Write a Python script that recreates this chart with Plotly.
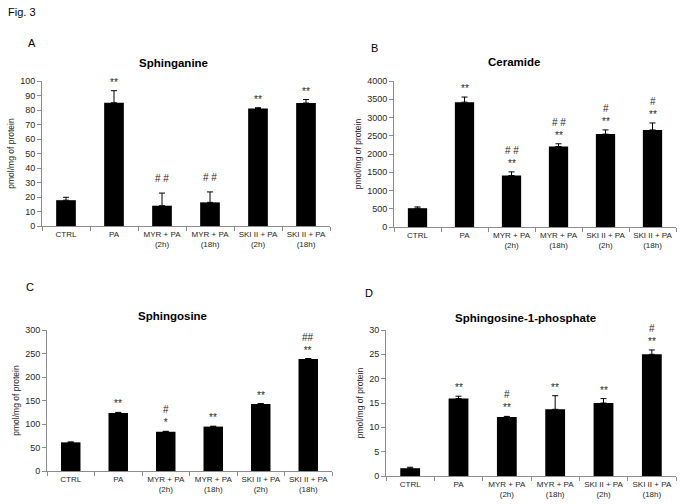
import plotly.graph_objects as go

# ---------------- data ----------------
categories = ["CTRL", "PA", "MYR + PA<br>(2h)", "MYR + PA<br>(18h)",
              "SKI II + PA<br>(2h)", "SKI II + PA<br>(18h)"]

sphinganine = [17.8, 85.0, 14.0, 16.3, 81.0, 84.8]
sphinganine_err = [2.0, 8.3, 8.7, 7.2, 0.6, 2.4]
sphinganine_sig = ["", "**", "# #", "# #", "**", "**"]

ceramide = [515, 3420, 1410, 2205, 2545, 2660]
ceramide_err = [35, 140, 100, 75, 115, 190]
ceramide_sig = ["", "**", "# #<br>**", "# #<br>**", "#<br>**", "#<br>**"]

sphingosine = [61, 123.5, 83.5, 94.5, 142.5, 238.5]
sphingosine_err = [0.8, 1.2, 1.0, 0.8, 1.0, 0.8]
sphingosine_sig = ["", "**", "#<br>*", "**", "**", "##<br>**"]

s1p = [1.6, 15.9, 12.1, 13.7, 15.0, 25.0]
s1p_err = [0.2, 0.5, 0.15, 2.8, 0.9, 0.9]
s1p_sig = ["", "**", "#<br>**", "**", "**", "#<br>**"]

titles = ["Sphinganine", "Ceramide", "Sphingosine", "Sphingosine-1-phosphate"]
letters = ["A", "B", "C", "D"]
y_ranges = [(0, 100, 10), (0, 4000, 500), (0, 300, 50), (0, 30, 5)]
y_title = "pmol/mg of protein"

panels = [
    (sphinganine, sphinganine_err, sphinganine_sig),
    (ceramide, ceramide_err, ceramide_sig),
    (sphingosine, sphingosine_err, sphingosine_sig),
    (s1p, s1p_err, s1p_sig),
]

# ---------------- layout geometry (pixels in 683x504) ----------------
W, H = 683, 504
boxes = [  # x0, x1, ytop, ybottom
    (42, 330, 81, 226),
    (394, 676, 81, 227),
    (47, 332, 330, 471),
    (386, 676, 330, 476),
]
title_pos = [(173, 63), (514, 62), (172, 316), (525, 318)]
letter_pos = [(32, 43), (374, 48), (30, 287), (369, 293)]

FONT = "Liberation Sans, Arial, sans-serif"
AXIS_COLOR = "#8c8c8c"
TEXT_COLOR = "#262626"

fig = go.Figure()
annotations = []

for i, (vals, errs, sigs) in enumerate(panels):
    n = "" if i == 0 else str(i + 1)
    xa, ya = "x" + n, "y" + n
    fig.add_trace(go.Bar(
        x=categories, y=vals, xaxis=xa, yaxis=ya,
        marker=dict(color="black", line=dict(width=0)),
        width=0.41,
        error_y=dict(type="data", array=errs, arrayminus=[0] * len(errs),
                     symmetric=False, color="black", thickness=1, width=3),
        showlegend=False, hoverinfo="skip",
    ))
    x0, x1, yt, yb = boxes[i]
    lo, hi, dt = y_ranges[i]
    fig.layout["xaxis" + n] = dict(
        domain=[x0 / W, x1 / W], anchor=ya, type="category",
        showline=True, linecolor=AXIS_COLOR, linewidth=1,
        ticks="outside", tickson="boundaries", ticklen=4, tickcolor=AXIS_COLOR,
        tickangle=0, automargin=False,
        showgrid=False, tickfont=dict(size=8, color=TEXT_COLOR, family=FONT),
        fixedrange=True,
    )
    fig.layout["yaxis" + n] = dict(
        domain=[1 - yb / H, 1 - yt / H], anchor=xa, range=[lo, hi], dtick=dt,
        showline=True, linecolor=AXIS_COLOR, linewidth=1,
        ticks="outside", ticklen=4, tickcolor=AXIS_COLOR,
        showgrid=False, zeroline=False, automargin=False,
        tickfont=dict(size=9, color=TEXT_COLOR, family=FONT),
        title=dict(text=y_title, font=dict(size=8.5, color=TEXT_COLOR, family=FONT),
                   standoff=4),
        fixedrange=True,
    )
    # significance marks above error bars
    for c, v, e, s in zip(categories, vals, errs, sigs):
        if not s:
            continue
        bottom_line = s.split("<br>")[-1]
        annotations.append(dict(
            x=c, y=v + e, xref=xa, yref=ya, text=s, showarrow=False,
            yanchor="bottom", yshift=7 if bottom_line.startswith("#") else 1,
            font=dict(size=10, color=TEXT_COLOR, family=FONT),
        ))
    tx, ty = title_pos[i]
    annotations.append(dict(
        x=tx / W, y=1 - ty / H, xref="paper", yref="paper", text="<b>%s</b>" % titles[i],
        showarrow=False, xanchor="center", yanchor="middle",
        font=dict(size=11.5, color="black", family=FONT),
    ))
    lx, ly = letter_pos[i]
    annotations.append(dict(
        x=lx / W, y=1 - ly / H, xref="paper", yref="paper", text=letters[i],
        showarrow=False, xanchor="center", yanchor="middle",
        font=dict(size=11, color="black", family=FONT),
    ))

annotations.append(dict(
    x=6 / W, y=1 - 12 / H, xref="paper", yref="paper", text="Fig. 3",
    showarrow=False, xanchor="left", yanchor="middle",
    font=dict(size=11, color="black", family=FONT),
))

fig.update_layout(
    width=W, height=H, autosize=False,
    margin=dict(l=0, r=0, t=0, b=0),
    paper_bgcolor="white", plot_bgcolor="white",
    annotations=annotations,
    font=dict(family=FONT),
)

fig.write_html(
    "out.html",
    config={"displayModeBar": False, "responsive": False},
    post_script="document.body.style.margin='0px';document.body.style.overflow='hidden';",
)
